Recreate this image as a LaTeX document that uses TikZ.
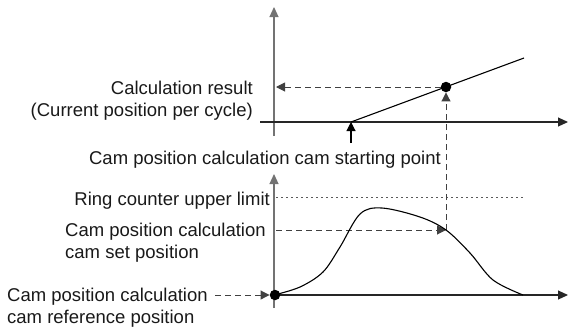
\documentclass[tikz,border=0pt]{standalone}
\usepackage{fontspec}
\setmainfont{Liberation Sans}
\usetikzlibrary{arrows.meta}
\begin{document}
\begin{tikzpicture}[x=1bp,y=-1bp,
  lbl/.style={inner sep=0pt,font=\fontsize{18.5bp}{22bp}\selectfont,text=black!90},
  yaxis/.style={draw=black!55,line width=1.1bp,-{Triangle[length=10bp,width=9bp]}},
  xaxis/.style={draw=black!85,line width=1.1bp,-{Triangle[length=10bp,width=9bp]}},
  dsh/.style={draw=black!75,line width=1bp,dash pattern=on 6bp off 4bp},
  dtd/.style={draw=black!65,line width=1bp,dash pattern=on 2bp off 3bp},
  tipd/.style={-{Triangle[length=9bp,width=9bp]}},
  curve/.style={draw=black,line width=1.1bp},
  dotn/.style={circle,fill=black,inner sep=0pt,minimum size=10.5bp}]
\useasboundingbox (0,0) rectangle (568,332);
% ---------- top graph ----------
\coordinate (tyb) at (274,136);
\coordinate (tyt) at (274,7);
\coordinate (txl) at (260,122);
\coordinate (txr) at (568,122);
\draw[yaxis] (tyb) -- (tyt);
\draw[xaxis] (txl) -- (txr);
\coordinate (start) at (351,122);
\coordinate (lend) at (524,58);
\draw[curve] (start) -- (lend);
\node[dotn] (res) at (446,87) {};
\coordinate (resy) at (276,87);
\draw[dsh,tipd] (res) -- (resy);
\coordinate (startt) at (351,143);
\draw[line width=1.1bp,-{Triangle[length=9bp,width=9bp]}] (startt) -- (start);
% ---------- bottom graph ----------
\coordinate (byb) at (274,308);
\coordinate (byt) at (274,174);
\coordinate (bxl) at (274,295);
\coordinate (bxr) at (568,295);
\draw[yaxis] (byb) -- (byt);
\draw[xaxis] (bxl) -- (bxr);
\coordinate (ringl) at (276,197);
\coordinate (ringr) at (524,197);
\draw[dtd] (ringl) -- (ringr);
\coordinate (setl) at (276,230);
\coordinate (setp) at (446,230);
\draw[dsh,tipd] (setl) -- (setp);
\draw[dsh,tipd] (setp) -- (res.south);
\draw[curve] plot[smooth,tension=0.55] coordinates {(274,295) (300,287) (323,272) (340,247) (360,214) (382,208) (420,217) (446,230) (470,253) (493,280) (523,295)};
\node[dotn] (ref) at (275,295) {};
\coordinate (refl) at (215,295);
\draw[dsh,tipd] (refl) -- (ref.west);
% ---------- labels ----------
\node[lbl,anchor=base east] (r1) at (253,94) {Calculation result};
\node[lbl,anchor=base east] (r2) at (253,116) {(Current position per cycle)};
\node[lbl,anchor=base east] (st) at (441,164) {Cam position calculation cam starting point};
\node[lbl,anchor=base east] (rg) at (270,205) {Ring counter upper limit};
\node[lbl,anchor=base west] (s1) at (65,236) {Cam position calculation};
\node[lbl,anchor=base west] (s2) at (65,258) {cam set position};
\node[lbl,anchor=base west] (f1) at (7,301) {Cam position calculation};
\node[lbl,anchor=base west] (f2) at (7,323) {cam reference position};
\end{tikzpicture}
\end{document}
